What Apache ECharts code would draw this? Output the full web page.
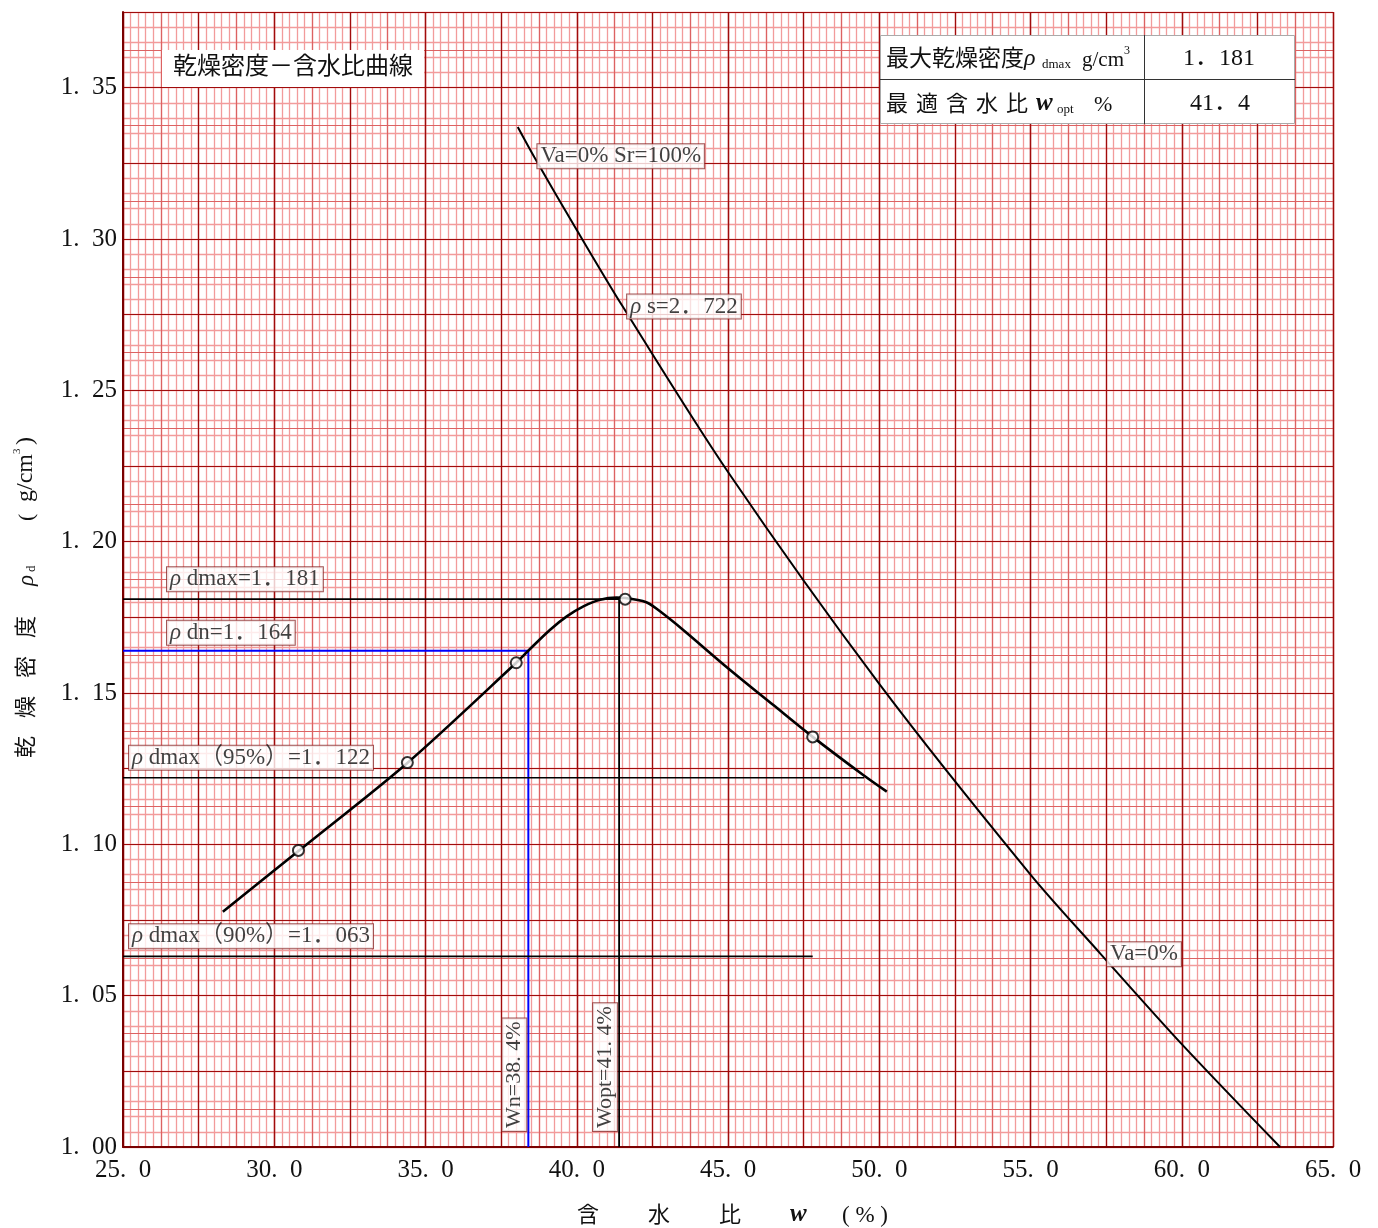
<!DOCTYPE html>
<html><head><meta charset="utf-8">
<script src="https://cdn.jsdelivr.net/npm/echarts@6/dist/echarts.min.js"></script>
<style>html,body{margin:0;padding:0;background:#fff}#c{width:1378px;height:1228px}</style>
</head><body><div id="c"></div>
<script>
const FONT = "'Liberation Serif','Noto Sans CJK JP',serif";
// axis ranges / ticks
const xMin = 25, xMax = 65, xTickStep = 5;
const yMin = 1.00, yMax = 1.375, yTickStep = 0.05;
const xGridSteps = [0.25, 1.25, 2.5];
const yGridSteps = [0.005, 0.0125, 0.025];

// measured test points (circles)
const testW   = [30.8, 34.4, 38.0, 41.6, 47.8];
const testRho = [1.098, 1.127, 1.160, 1.181, 1.1355];

// compaction curve
const curveW   = [28.3, 30.8, 34.4, 38.0, 38.43, 39.12, 39.67, 40.22, 40.77, 41.32, 41.6, 42.3, 42.75, 43.5, 45.0, 46.5, 47.8, 49.47, 50.25];
const curveRho = [1.0777, 1.0978, 1.1269, 1.160, 1.1643, 1.1709, 1.1753, 1.1786, 1.1808, 1.1815, 1.1814, 1.1800, 1.1770, 1.1710, 1.1582, 1.1460, 1.1355, 1.1229, 1.1174];

// zero air voids (Va=0%) line as read
const satW   = [38.05, 38.6, 40.0, 41.5, 45.0, 50.0, 55.0, 57.3, 60.0, 63.25];
const satRho = [1.337, 1.327, 1.303, 1.278, 1.223, 1.153, 1.090, 1.064, 1.034, 1.000];

// reference values
const rhoDmax = 1.181, wOpt = 41.4;
const rhoDn = 1.164, wN = 38.4;
const rho95 = 1.122, rho90 = 1.063, rhoS = 2.722;
const end95 = 49.5, end90 = 47.8;

const fw3 = v => v.toFixed(3).replace('.', '．');
const fw1 = v => v.toFixed(1).replace('.', '．');
const h1 = v => v.toFixed(1).replace('.', '. ');
const tick2 = v => v.toFixed(2).replace('.', '.\u2002');
const tick1 = v => v.toFixed(1).replace('.', '.\u2002');
const zip = (a, b) => a.map((v, i) => [v, b[i]]);

const gridColors = ['#f29b9b', '#dc6262', '#a00c0c'];
const gridWidths = [1.3, 1.2, 1.2];
const T = '#111';

const xAxes = xGridSteps.map((s, i) => ({
  type: 'value', min: xMin, max: xMax, interval: s, z: i + 1,
  axisLine: {show: false}, axisTick: {show: false}, axisLabel: {show: false},
  splitLine: {show: true, lineStyle: {color: gridColors[i], width: gridWidths[i]}}
}));
xAxes.push({
  type: 'value', position: 'bottom', min: xMin, max: xMax, interval: xTickStep, z: 5,
  axisLine: {show: true, onZero: false, lineStyle: {color: '#7a0000', width: 2}},
  axisTick: {show: false},
  axisLabel: {show: true, margin: 11, fontFamily: FONT, fontSize: 25, color: T, formatter: v => tick1(v)},
  splitLine: {show: true, lineStyle: {color: gridColors[2], width: 1.2}}
});
const yAxes = yGridSteps.map((s, i) => ({
  type: 'value', min: yMin, max: yMax, interval: s, z: i + 1,
  axisLine: {show: false}, axisTick: {show: false}, axisLabel: {show: false},
  splitLine: {show: true, lineStyle: {color: gridColors[i], width: gridWidths[i]}}
}));
yAxes.push({
  type: 'value', position: 'left', min: yMin, max: yMax, interval: yTickStep, z: 5,
  axisLine: {show: true, onZero: false, lineStyle: {color: '#7a0000', width: 2}},
  axisTick: {show: false},
  axisLabel: {show: true, margin: 6, showMaxLabel: false, fontFamily: FONT, fontSize: 25, color: T, formatter: v => tick2(v)},
  splitLine: {show: true, lineStyle: {color: gridColors[2], width: 1.2}}
});

function seg(pts, color, width) {
  return {type: 'line', data: pts, symbol: 'none', silent: true, z: 10,
    xAxisIndex: 3, yAxisIndex: 3, lineStyle: {color: color, width: width}};
}
function boxLabel(text, align, vAlign, offset, rotate, size) {
  const fs = size || 23;
  return {show: true, formatter: text, position: [0, 0], align: align, verticalAlign: vAlign,
    offset: offset, rotate: rotate || 0, backgroundColor: '#fff', borderColor: '#8b2a2a', borderWidth: 1,
    padding: [1, 3, 1, 3], fontFamily: FONT, fontSize: fs, lineHeight: 22, color: T,
    rich: {r: {fontStyle: 'italic', fontFamily: FONT, fontSize: fs, lineHeight: 22, color: T}}};
}

const series = [
  seg([[xMin, rhoDmax], [wOpt, rhoDmax]], '#000', 1.6),
  seg([[wOpt, yMin], [wOpt, rhoDmax]], '#000', 1.8),
  seg([[xMin, rhoDn], [wN, rhoDn]], '#0000ff', 2),
  seg([[wN, yMin], [wN, rhoDn]], '#0000ff', 2),
  seg([[xMin, rho95], [end95, rho95]], '#000', 1.6),
  seg([[xMin, rho90], [end90, rho90]], '#000', 1.8),
  Object.assign(seg(zip(satW, satRho), '#000', 2), {smooth: 0.3}),
  Object.assign(seg(zip(curveW, curveRho), '#000', 2.6), {smooth: 0.3}),
  {type: 'scatter', data: zip(testW, testRho), symbol: 'emptyCircle', symbolSize: 11, silent: true, z: 12,
    xAxisIndex: 3, yAxisIndex: 3, itemStyle: {color: '#000', borderColor: '#000', borderWidth: 1.6}},
  {type: 'scatter', symbolSize: 0, silent: true, z: 20, xAxisIndex: 3, yAxisIndex: 3,
    data: [
      {value: [xMin, rhoDmax], label: boxLabel('{r|ρ} dmax=' + fw3(rhoDmax), 'left', 'bottom', [44, -8])},
      {value: [xMin, rhoDn], label: boxLabel('{r|ρ} dn=' + fw3(rhoDn), 'left', 'bottom', [44, -6])},
      {value: [xMin, rho95], label: boxLabel('{r|ρ} dmax（95%）=' + fw3(rho95), 'left', 'bottom', [6, -8])},
      {value: [xMin, rho90], label: boxLabel('{r|ρ} dmax（90%）=' + fw3(rho90), 'left', 'bottom', [6, -8])},
      {value: [wN, yMin], label: boxLabel('Wn=' + h1(wN) + '%', 'left', 'bottom', [16, -2], 90, 22)},
      {value: [wOpt, yMin], label: boxLabel('Wopt=' + h1(wOpt) + '%', 'left', 'bottom', [16, -2], 90, 22)},
      {value: [satW[1], satRho[1]], label: boxLabel('Va=0% Sr=100%', 'left', 'middle', [3, -1])},
      {value: [satW[3], satRho[3]], label: boxLabel('{r|ρ} s=' + fw3(rhoS), 'left', 'middle', [5, 1])},
      {value: [satW[7], satRho[7]], label: boxLabel('Va=0%', 'left', 'middle', [7, 1])}
    ]}
];

const graphic = [
  {type: 'text', x: 162, y: 50, z: 100, style: {text: '乾燥密度－含水比曲線', fontFamily: FONT, fontSize: 24,
    fill: T, backgroundColor: '#fff', padding: [6, 11, 7, 11], align: 'left', verticalAlign: 'top'}},
  // table
  {type: 'rect', z: 100, shape: {x: 880.5, y: 35.5, width: 414, height: 88}, style: {fill: '#fff', stroke: '#aaa', lineWidth: 1}},
  {type: 'line', z: 101, shape: {x1: 880, y1: 79.5, x2: 1295, y2: 79.5}, style: {stroke: '#333', lineWidth: 1}},
  {type: 'line', z: 101, shape: {x1: 1144.5, y1: 35, x2: 1144.5, y2: 124}, style: {stroke: '#333', lineWidth: 1}},
  {type: 'text', z: 102, x: 886, y: 58, style: {
    text: '{k|最大乾燥密度}{r|ρ}{s|dmax}{g|g/cm}{sup|3}', align: 'left', verticalAlign: 'middle',
    rich: {
      k: {fontFamily: FONT, fontSize: 23, fill: T, lineHeight: 26, verticalAlign: 'bottom'},
      r: {fontFamily: FONT, fontSize: 24, fontStyle: 'italic', fill: T, width: 18, lineHeight: 26, verticalAlign: 'bottom'},
      s: {fontFamily: FONT, fontSize: 13, fill: T, width: 40, lineHeight: 13, verticalAlign: 'bottom'},
      g: {fontFamily: FONT, fontSize: 21, fill: T, lineHeight: 26, verticalAlign: 'bottom'},
      sup: {fontFamily: FONT, fontSize: 12, fill: T, lineHeight: 12, verticalAlign: 'top'}
    }}},
  {type: 'text', z: 102, x: 1219, y: 59, style: {text: fw3(rhoDmax), fontFamily: FONT, fontSize: 24, fill: T, align: 'center', verticalAlign: 'middle'}},
  {type: 'text', z: 102, x: 886, y: 103, style: {
    text: '{k|最}{k|適}{k|含}{k|水}{k|比}{w|w}{s|opt}{g|%}', align: 'left', verticalAlign: 'middle',
    rich: {
      k: {fontFamily: FONT, fontSize: 22, fill: T, width: 30, lineHeight: 26, verticalAlign: 'bottom'},
      w: {fontFamily: FONT, fontSize: 25, fontStyle: 'italic', fontWeight: 'bold', fill: T, width: 21, lineHeight: 26, verticalAlign: 'bottom'},
      s: {fontFamily: FONT, fontSize: 13, fill: T, width: 37, lineHeight: 13, verticalAlign: 'bottom'},
      g: {fontFamily: FONT, fontSize: 22, fill: T, lineHeight: 26, verticalAlign: 'bottom'}
    }}},
  {type: 'text', z: 102, x: 1220, y: 104, style: {text: fw1(wOpt), fontFamily: FONT, fontSize: 24, fill: T, align: 'center', verticalAlign: 'middle'}},
  // y axis title (rotated)
  {type: 'text', z: 102, x: 25, y: 758, rotation: Math.PI / 2, style: {
    text: '{c|乾}{c|燥}{c|密}{c2|度}{r|ρ}{s|d}{p|(}{g|g/cm}{sup|3}{g|)}', align: 'left', verticalAlign: 'middle',
    rich: {
      c: {fontFamily: FONT, fontSize: 22, fill: T, width: 40, lineHeight: 26, verticalAlign: 'bottom'},
      c2: {fontFamily: FONT, fontSize: 22, fill: T, width: 52, lineHeight: 26, verticalAlign: 'bottom'},
      r: {fontFamily: FONT, fontSize: 23, fontStyle: 'italic', fill: T, width: 14, lineHeight: 26, verticalAlign: 'bottom'},
      s: {fontFamily: FONT, fontSize: 13, fill: T, width: 51, lineHeight: 13, verticalAlign: 'bottom'},
      p: {fontFamily: FONT, fontSize: 22, fill: T, width: 19, lineHeight: 26, verticalAlign: 'bottom'},
      g: {fontFamily: FONT, fontSize: 24, fill: T, lineHeight: 26, verticalAlign: 'bottom'},
      sup: {fontFamily: FONT, fontSize: 11, fill: T, width: 9, lineHeight: 11, verticalAlign: 'top'}
    }}},
  // x axis title
  {type: 'text', z: 102, x: 577, y: 1214, style: {
    text: '{c|含}{c|水}{c|比}{w|w}{g|( % )}', align: 'left', verticalAlign: 'middle',
    rich: {
      c: {fontFamily: FONT, fontSize: 22, fill: T, width: 71, lineHeight: 26, verticalAlign: 'bottom'},
      w: {fontFamily: FONT, fontSize: 25, fontStyle: 'italic', fontWeight: 'bold', fill: T, width: 52, lineHeight: 26, verticalAlign: 'bottom'},
      g: {fontFamily: FONT, fontSize: 23, fill: T, lineHeight: 26, verticalAlign: 'bottom'}
    }}}
];

const chart = echarts.init(document.getElementById('c'), null, {renderer: 'canvas'});
chart.setOption({
  animation: false,
  backgroundColor: '#fff',
  grid: {left: 123, top: 12, width: 1210, height: 1135, containLabel: false},
  xAxis: xAxes,
  yAxis: yAxes,
  series: series,
  graphic: graphic
});
</script>
</body></html>
